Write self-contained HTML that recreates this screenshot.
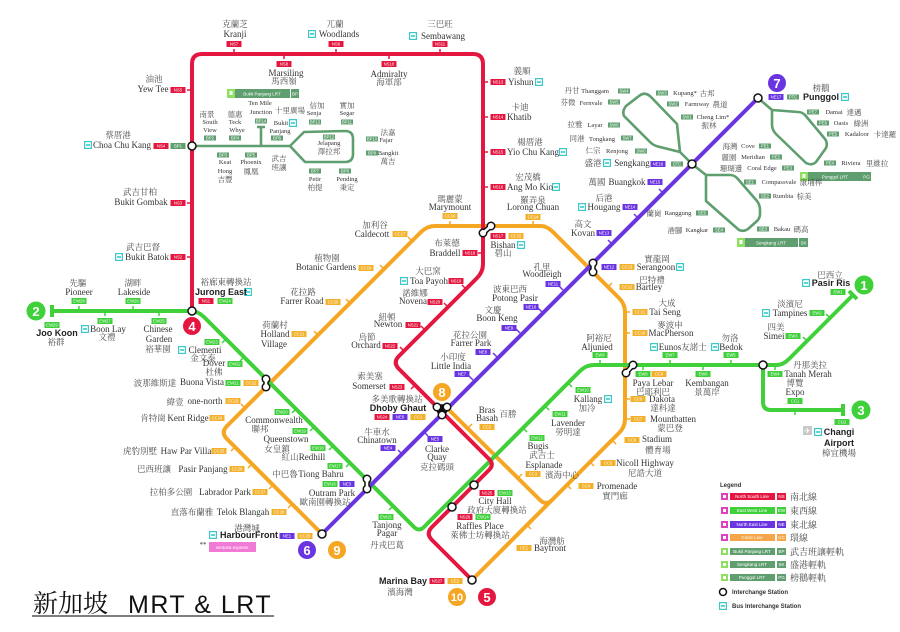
<!DOCTYPE html>
<html><head><meta charset="utf-8"><style>
html,body{margin:0;padding:0;background:#fff}
svg{display:block}
text{font-family:"Liberation Serif","Noto Serif CJK SC",serif;text-anchor:middle;fill:#333;font-size:9px}
.z{font-size:8.5px;fill:#4a4a4a}
.s{font-size:6.5px}
.zs{font-size:7.5px;fill:#4a4a4a}
.b{font-weight:bold;font-family:"Liberation Sans",sans-serif;font-size:9px;fill:#222}
.l{text-anchor:start}
.k text{fill:#fff;font-family:"Liberation Sans",sans-serif;font-size:4.2px}
.ns rect{fill:#e3173f}.ew rect{fill:#3fcf3a}.ne rect{fill:#6a35e0}.cc rect{fill:#f3b12b}.lr rect{fill:#5f9e6e}
.ln{fill:none;stroke-width:4;stroke-linejoin:round}
.lt{fill:none;stroke:#5f9e6e;stroke-width:2.6;stroke-linejoin:round}
.tk{stroke-width:1.5;fill:none}
.nc text{fill:#fff;font-family:"Liberation Sans",sans-serif;font-weight:bold;font-size:13px}
.lg{font-family:"Liberation Sans",sans-serif;font-weight:bold;font-size:6px;text-anchor:start;fill:#333}
.lb{font-family:"Liberation Sans",sans-serif;font-size:4.5px;fill:#fff}
</style></head><body>
<svg width="900" height="632" viewBox="0 0 900 632" xmlns="http://www.w3.org/2000/svg">
<defs>
<symbol id="bus" viewBox="0 0 8 8"><rect x="0.6" y="0.6" width="6.8" height="6.8" fill="#fff" stroke="#3cc8c8" stroke-width="1.2"/><rect x="2" y="3.2" width="4" height="1.6" fill="#3cc8c8"/></symbol>
</defs>
<rect width="900" height="632" fill="#fff"/>

<!-- LRT lines -->
<path class="lt" d="M192,146 L290,146 M290,146 L304,132 L345,131 Q353,131 353,139 L353,154 Q353,162 345,162 L305,162 Z M261,146 L261,127 M257,127 L265,127"/>
<path class="lt" d="M692,164 L680,152 L677,124 L651,97 Q645,91 639,96 L626,106 Q622,111 624,116 L650,142 Q654,146 660,147 L680,152"/>
<path class="lt" d="M692,164 L706,175 L730,175 Q734,175 737,178 L757,201 Q760,205 760,210 L760,214 Q760,218 757,221 L748,229 Q744,232 739,230 L706,201 L706,175"/>
<path class="lt" d="M758,98 L772,110 L798,112 Q802,112 805,115 L825,139 Q828,143 826,148 L816,162 Q812,166 806,163 L776,134 Q772,130 772,124 L772,110"/>

<!-- MRT lines -->
<path class="ln" stroke="#f5a623" d="M322,534 L227,439 Q220.5,432.5 227,426 L421,232 Q427,226 435,226 L541,226 Q547,226 553,232 L619,298 Q625,304 625,312 L625,419 Q625,427 619,433 L472,580"/>
<path class="ln" stroke="#f5a623" d="M447,408 L540,500 Q546,506 552,500"/>
<path class="ln" stroke="#3fd03a" d="M52,311 L190,311 Q198,311 204,317 L414,527 Q419,532 424,527 L580,371 Q586,365 594,365 L777,365 Q783,365 789,359 L853,295 M849,291 L857,299 M52,305 L52,317 M763,365 L763,402 Q763,410 771,410 L843,410 M843,404 L843,416"/>
<path class="ln" stroke="#e3173f" d="M192,310 L192,64 Q192,54 202,54 L473,54 Q483,54 483,64 L483,264 Q483,272 477,278 L399,356 Q392.5,362.5 399,369 L489,459 Q494.5,464.5 489,470 L432,527 Q425.5,533.5 432,540 L472,580"/>
<path class="ln" stroke="#6a35e0" d="M322,534 L758,98"/>

<!-- ticks -->
<g class="tk" stroke="#e3173f">
<path d="M187,90H192M187,203H192M187,257H192M234,49V54M284,54V59M336,49V54M389,54V59M440,49V54M483,82H488M483,117H488M483,152H488M483,187H488M478,253H483M466,289L462,285M448,307L444,303M425,330L421,326M404,351L400,347M415,385L411,389"/>
</g>
<g class="tk" stroke="#3fd03a"><path d="M79,306V311M105,311V316M133,306V311M159,311V316M600,360V365M643,365V370M670,360V365M703,365V370M731,360V365M795,410V415M775,365V370M226,339L222,343M244,357L240,361M296,409L292,413M314,427L310,431M333,446L329,450M350,463L346,467M393,506L389,510M523,428L527,432M545,406L549,410M568,383L572,387M807,341L803,337M830,318L826,314"/></g>
<g class="tk" stroke="#f5a623"><path d="M450,221V226M533,221V226M625,312H630M625,333H630M625,399H630M625,419H630M412,241L408,237M384,269L380,265M350,303L346,299M318,335L314,331M245,408L241,404M235,447L231,451M252,464L248,468M273,485L269,489M292,504L288,508M608,287L612,283M612,440L616,444M590,462L594,466M567,485L571,489M527,525L531,529M468,428L472,424M518,478L522,474"/></g>
<g class="tk" stroke="#6a35e0"><path d="M563,290L559,286M542,312L538,308M520,333L516,329M497,357L493,353M473,380L469,376M612,244L608,240M638,218L634,214M663,193L659,189M402,454L398,450M424,432L428,436"/></g>

<!-- interchange markers -->
<g fill="#fff" stroke="#111" stroke-width="1.5">
<circle cx="192" cy="311" r="4"/><circle cx="192" cy="146" r="4"/><circle cx="474" cy="485" r="4"/><circle cx="452" cy="507" r="4"/><circle cx="472" cy="580" r="4"/><circle cx="322" cy="534" r="4"/><circle cx="763" cy="365" r="4"/><circle cx="692" cy="164" r="4"/><circle cx="758" cy="98" r="4"/>
</g>
<g>
<path d="M483,233L491,226M593,263L593,272M266,379L266,387M367,479L367,489M633,365L626,373M437,407L447,407L442,415Z" stroke="#111" stroke-width="5.5" stroke-linejoin="round" stroke-linecap="round" fill="#111"/>
<g fill="#111"><circle cx="483" cy="233" r="4.5"/><circle cx="491" cy="226" r="4.5"/><circle cx="593" cy="263" r="4.5"/><circle cx="593" cy="272" r="4.5"/><circle cx="266" cy="379" r="4.5"/><circle cx="266" cy="387" r="4.5"/><circle cx="367" cy="479" r="4.5"/><circle cx="367" cy="489" r="4.5"/><circle cx="633" cy="365" r="4.5"/><circle cx="626" cy="373" r="4.5"/><circle cx="437" cy="407" r="4.5"/><circle cx="447" cy="407" r="4.5"/><circle cx="442" cy="415" r="4.5"/></g>
<path d="M483,233L491,226M593,263L593,272M266,379L266,387M367,479L367,489M633,365L626,373" stroke="#fff" stroke-width="2.5"/>
<g fill="#fff"><circle cx="483" cy="233" r="3"/><circle cx="491" cy="226" r="3"/><circle cx="593" cy="263" r="3"/><circle cx="593" cy="272" r="3"/><circle cx="266" cy="379" r="3"/><circle cx="266" cy="387" r="3"/><circle cx="367" cy="479" r="3"/><circle cx="367" cy="489" r="3"/><circle cx="633" cy="365" r="3"/><circle cx="626" cy="373" r="3"/><circle cx="437" cy="407" r="3"/><circle cx="447" cy="407" r="3"/><circle cx="442" cy="415" r="3"/></g>
</g>

<!-- number circles -->
<g class="nc">
<circle cx="864" cy="285" r="9.5" fill="#3fd03a"/><text x="864" y="290">1</text>
<circle cx="36" cy="311" r="9.5" fill="#3fd03a"/><text x="36" y="316">2</text>
<circle cx="861" cy="410" r="9.5" fill="#3fd03a"/><text x="861" y="415">3</text>
<circle cx="192" cy="326" r="9" fill="#e3173f"/><text x="192" y="331">4</text>
<circle cx="487" cy="597" r="9" fill="#e3173f"/><text x="487" y="602">5</text>
<circle cx="307" cy="550" r="9" fill="#6a35e0"/><text x="307" y="555">6</text>
<circle cx="777" cy="83" r="9" fill="#6a35e0"/><text x="777" y="88">7</text>
<circle cx="442" cy="392" r="9" fill="#f5a623"/><text x="442" y="397">8</text>
<circle cx="337" cy="550" r="9" fill="#f5a623"/><text x="337" y="555">9</text>
<circle cx="457" cy="597" r="9" fill="#f5a623"/><text x="457" y="601" style="font-size:11px">10</text>
</g>

<!-- bus icons -->
<g>
<use href="#bus" x="308" y="30" width="8" height="8"/><use href="#bus" x="409" y="32" width="8" height="8"/>
<use href="#bus" x="84" y="141" width="8" height="8"/><use href="#bus" x="115" y="253" width="8" height="8"/>
<use href="#bus" x="244" y="288" width="8" height="8"/><use href="#bus" x="535" y="78" width="8" height="8"/>
<use href="#bus" x="559" y="148" width="8" height="8"/><use href="#bus" x="552" y="183" width="8" height="8"/>
<use href="#bus" x="517" y="241" width="8" height="8"/><use href="#bus" x="400" y="277" width="8" height="8"/>
<use href="#bus" x="289" y="119" width="8" height="8"/><use href="#bus" x="578" y="203" width="8" height="8"/>
<use href="#bus" x="603" y="159" width="8" height="8"/><use href="#bus" x="676" y="263" width="8" height="8"/>
<use href="#bus" x="841" y="93" width="8" height="8"/><use href="#bus" x="802" y="279" width="8" height="8"/>
<use href="#bus" x="762" y="309" width="8" height="8"/><use href="#bus" x="650" y="343" width="8" height="8"/>
<use href="#bus" x="711" y="343" width="8" height="8"/><use href="#bus" x="604" y="395" width="8" height="8"/>
<use href="#bus" x="814" y="428" width="8" height="8"/><use href="#bus" x="81" y="325" width="8" height="8"/>
<use href="#bus" x="178" y="346" width="8" height="8"/><use href="#bus" x="209" y="531" width="8" height="8"/>
</g>
<rect x="803" y="426" width="9" height="9" fill="#c8c8c8"/><text x="807.5" y="433.5" style="font-size:8px;fill:#fff;font-family:'DejaVu Sans',sans-serif">✈</text>

<!-- LRT name bars -->
<rect x="227" y="89" width="8" height="9" fill="#8ee060"/><rect x="229.5" y="91" width="3" height="4" fill="#fff"/>
<rect x="235" y="89" width="55" height="9" fill="#5f9e6e"/><text x="262" y="95.5" class="lb">Bukit Panjang LRT</text>
<rect x="291" y="89" width="8" height="9" fill="#5f9e6e"/><text x="295" y="95.5" class="lb">BP</text>
<rect x="737" y="238" width="8" height="9" fill="#8ee060"/><rect x="739.5" y="240" width="3" height="4" fill="#fff"/>
<rect x="745" y="238" width="53" height="9" fill="#5f9e6e"/><text x="771" y="244.5" class="lb">Sengkang LRT</text>
<rect x="799" y="238" width="9" height="9" fill="#5f9e6e"/><text x="803.5" y="244.5" class="lb">SK</text>
<rect x="800" y="172" width="8" height="9" fill="#8ee060"/><rect x="802.5" y="174" width="3" height="4" fill="#fff"/>
<rect x="808" y="172" width="54" height="9" fill="#5f9e6e"/><text x="835" y="178.5" class="lb">Punggol LRT</text>
<rect x="862" y="172" width="9" height="9" fill="#5f9e6e"/><text x="866.5" y="178.5" class="lb">PG</text>

<!-- code boxes: NS -->
<g class="k ns">
<g transform="translate(234,44)"><rect x="-7.5" y="-3" width="15" height="6"/><text y="1.5">NS7</text></g>
<g transform="translate(336,44)"><rect x="-7.5" y="-3" width="15" height="6"/><text y="1.5">NS9</text></g>
<g transform="translate(440,44)"><rect x="-7.5" y="-3" width="15" height="6"/><text y="1.5">NS11</text></g>
<g transform="translate(284,64)"><rect x="-7.5" y="-3" width="15" height="6"/><text y="1.5">NS8</text></g>
<g transform="translate(389,64)"><rect x="-7.5" y="-3" width="15" height="6"/><text y="1.5">NS10</text></g>
<g transform="translate(178,90)"><rect x="-7.5" y="-3" width="15" height="6"/><text y="1.5">NS5</text></g>
<g transform="translate(161,146)"><rect x="-7.5" y="-3" width="15" height="6"/><text y="1.5">NS4</text></g>
<g transform="translate(178,203)"><rect x="-7.5" y="-3" width="15" height="6"/><text y="1.5">NS3</text></g>
<g transform="translate(178,257)"><rect x="-7.5" y="-3" width="15" height="6"/><text y="1.5">NS2</text></g>
<g transform="translate(206,301)"><rect x="-7.5" y="-3" width="15" height="6"/><text y="1.5">NS1</text></g>
<g transform="translate(498,82)"><rect x="-7.5" y="-3" width="15" height="6"/><text y="1.5">NS13</text></g>
<g transform="translate(498,117)"><rect x="-7.5" y="-3" width="15" height="6"/><text y="1.5">NS14</text></g>
<g transform="translate(498,152)"><rect x="-7.5" y="-3" width="15" height="6"/><text y="1.5">NS15</text></g>
<g transform="translate(498,187)"><rect x="-7.5" y="-3" width="15" height="6"/><text y="1.5">NS16</text></g>
<g transform="translate(498,236)"><rect x="-7.5" y="-3" width="15" height="6"/><text y="1.5">NS17</text></g>
<g transform="translate(470,253)"><rect x="-7.5" y="-3" width="15" height="6"/><text y="1.5">NS18</text></g>
<g transform="translate(456,281)"><rect x="-7.5" y="-3" width="15" height="6"/><text y="1.5">NS19</text></g>
<g transform="translate(435,302)"><rect x="-7.5" y="-3" width="15" height="6"/><text y="1.5">NS20</text></g>
<g transform="translate(413,325)"><rect x="-7.5" y="-3" width="15" height="6"/><text y="1.5">NS21</text></g>
<g transform="translate(390,346)"><rect x="-7.5" y="-3" width="15" height="6"/><text y="1.5">NS22</text></g>
<g transform="translate(397,387)"><rect x="-7.5" y="-3" width="15" height="6"/><text y="1.5">NS23</text></g>
<g transform="translate(382,417)"><rect x="-7.5" y="-3" width="15" height="6"/><text y="1.5">NS24</text></g>
<g transform="translate(487,493)"><rect x="-7.5" y="-3" width="15" height="6"/><text y="1.5">NS25</text></g>
<g transform="translate(465,517)"><rect x="-7.5" y="-3" width="15" height="6"/><text y="1.5">NS26</text></g>
<g transform="translate(437,581)"><rect x="-7.5" y="-3" width="15" height="6"/><text y="1.5">NS27</text></g>
</g>
<!-- EW -->
<g class="k ew">
<g transform="translate(225,301)"><rect x="-7.5" y="-3" width="15" height="6"/><text y="1.5">EW24</text></g>
<g transform="translate(79,301)"><rect x="-7.5" y="-3" width="15" height="6"/><text y="1.5">EW28</text></g>
<g transform="translate(133,301)"><rect x="-7.5" y="-3" width="15" height="6"/><text y="1.5">EW26</text></g>
<g transform="translate(52,325)"><rect x="-7.5" y="-3" width="15" height="6"/><text y="1.5">EW29</text></g>
<g transform="translate(105,321)"><rect x="-7.5" y="-3" width="15" height="6"/><text y="1.5">EW27</text></g>
<g transform="translate(159,321)"><rect x="-7.5" y="-3" width="15" height="6"/><text y="1.5">EW25</text></g>
<g transform="translate(212,342)"><rect x="-7.5" y="-3" width="15" height="6"/><text y="1.5">EW23</text></g>
<g transform="translate(235,364)"><rect x="-7.5" y="-3" width="15" height="6"/><text y="1.5">EW22</text></g>
<g transform="translate(233,383)"><rect x="-7.5" y="-3" width="15" height="6"/><text y="1.5">EW21</text></g>
<g transform="translate(282,412)"><rect x="-7.5" y="-3" width="15" height="6"/><text y="1.5">EW20</text></g>
<g transform="translate(300,431)"><rect x="-7.5" y="-3" width="15" height="6"/><text y="1.5">EW19</text></g>
<g transform="translate(318,448)"><rect x="-7.5" y="-3" width="15" height="6"/><text y="1.5">EW18</text></g>
<g transform="translate(335,466)"><rect x="-7.5" y="-3" width="15" height="6"/><text y="1.5">EW17</text></g>
<g transform="translate(330,484)"><rect x="-7.5" y="-3" width="15" height="6"/><text y="1.5">EW16</text></g>
<g transform="translate(386,517)"><rect x="-7.5" y="-3" width="15" height="6"/><text y="1.5">EW15</text></g>
<g transform="translate(483,517)"><rect x="-7.5" y="-3" width="15" height="6"/><text y="1.5">EW14</text></g>
<g transform="translate(505,493)"><rect x="-7.5" y="-3" width="15" height="6"/><text y="1.5">EW13</text></g>
<g transform="translate(537,438)"><rect x="-7.5" y="-3" width="15" height="6"/><text y="1.5">EW12</text></g>
<g transform="translate(560,414)"><rect x="-7.5" y="-3" width="15" height="6"/><text y="1.5">EW11</text></g>
<g transform="translate(583,390)"><rect x="-7.5" y="-3" width="15" height="6"/><text y="1.5">EW10</text></g>
<g transform="translate(600,355)"><rect x="-7.5" y="-3" width="15" height="6"/><text y="1.5">EW9</text></g>
<g transform="translate(643,374)"><rect x="-7.5" y="-3" width="15" height="6"/><text y="1.5">EW8</text></g>
<g transform="translate(670,355)"><rect x="-7.5" y="-3" width="15" height="6"/><text y="1.5">EW7</text></g>
<g transform="translate(703,374)"><rect x="-7.5" y="-3" width="15" height="6"/><text y="1.5">EW6</text></g>
<g transform="translate(731,355)"><rect x="-7.5" y="-3" width="15" height="6"/><text y="1.5">EW5</text></g>
<g transform="translate(775,374)"><rect x="-7.5" y="-3" width="15" height="6"/><text y="1.5">EW4</text></g>
<g transform="translate(793,336)"><rect x="-7.5" y="-3" width="15" height="6"/><text y="1.5">EW3</text></g>
<g transform="translate(817,313)"><rect x="-7.5" y="-3" width="15" height="6"/><text y="1.5">EW2</text></g>
<g transform="translate(838,292)"><rect x="-7.5" y="-3" width="15" height="6"/><text y="1.5">EW1</text></g>
<g transform="translate(795,401)"><rect x="-7.5" y="-3" width="15" height="6"/><text y="1.5">CG1</text></g>
<g transform="translate(842,422)"><rect x="-7.5" y="-3" width="15" height="6"/><text y="1.5">CG2</text></g>
</g>
<!-- NE -->
<g class="k ne">
<g transform="translate(287,536)"><rect x="-7.5" y="-3" width="15" height="6"/><text y="1.5">NE1</text></g>
<g transform="translate(347,484)"><rect x="-7.5" y="-3" width="15" height="6"/><text y="1.5">NE3</text></g>
<g transform="translate(388,448)"><rect x="-7.5" y="-3" width="15" height="6"/><text y="1.5">NE4</text></g>
<g transform="translate(435,439)"><rect x="-7.5" y="-3" width="15" height="6"/><text y="1.5">NE5</text></g>
<g transform="translate(400,417)"><rect x="-7.5" y="-3" width="15" height="6"/><text y="1.5">NE6</text></g>
<g transform="translate(462,374)"><rect x="-7.5" y="-3" width="15" height="6"/><text y="1.5">NE7</text></g>
<g transform="translate(483,352)"><rect x="-7.5" y="-3" width="15" height="6"/><text y="1.5">NE8</text></g>
<g transform="translate(509,328)"><rect x="-7.5" y="-3" width="15" height="6"/><text y="1.5">NE9</text></g>
<g transform="translate(531,307)"><rect x="-7.5" y="-3" width="15" height="6"/><text y="1.5">NE10</text></g>
<g transform="translate(553,284)"><rect x="-7.5" y="-3" width="15" height="6"/><text y="1.5">NE11</text></g>
<g transform="translate(609,267)"><rect x="-7.5" y="-3" width="15" height="6"/><text y="1.5">NE12</text></g>
<g transform="translate(604,233)"><rect x="-7.5" y="-3" width="15" height="6"/><text y="1.5">NE13</text></g>
<g transform="translate(630,207)"><rect x="-7.5" y="-3" width="15" height="6"/><text y="1.5">NE14</text></g>
<g transform="translate(655,182)"><rect x="-7.5" y="-3" width="15" height="6"/><text y="1.5">NE15</text></g>
<g transform="translate(658,164)"><rect x="-7.5" y="-3" width="15" height="6"/><text y="1.5">NE16</text></g>
<g transform="translate(776,97)"><rect x="-7.5" y="-3" width="15" height="6"/><text y="1.5">NE17</text></g>
</g>
<!-- CC -->
<g class="k cc">
<g transform="translate(418,417)"><rect x="-7.5" y="-3" width="15" height="6"/><text y="1.5">CC1</text></g>
<g transform="translate(487,427)"><rect x="-7.5" y="-3" width="15" height="6"/><text y="1.5">CC2</text></g>
<g transform="translate(533,474)"><rect x="-7.5" y="-3" width="15" height="6"/><text y="1.5">CC3</text></g>
<g transform="translate(586,486)"><rect x="-7.5" y="-3" width="15" height="6"/><text y="1.5">CC4</text></g>
<g transform="translate(608,463)"><rect x="-7.5" y="-3" width="15" height="6"/><text y="1.5">CC5</text></g>
<g transform="translate(632,440)"><rect x="-7.5" y="-3" width="15" height="6"/><text y="1.5">CC6</text></g>
<g transform="translate(638,419)"><rect x="-7.5" y="-3" width="15" height="6"/><text y="1.5">CC7</text></g>
<g transform="translate(638,399)"><rect x="-7.5" y="-3" width="15" height="6"/><text y="1.5">CC8</text></g>
<g transform="translate(659,374)"><rect x="-7.5" y="-3" width="15" height="6"/><text y="1.5">CC9</text></g>
<g transform="translate(640,333)"><rect x="-7.5" y="-3" width="15" height="6"/><text y="1.5">CC10</text></g>
<g transform="translate(640,312)"><rect x="-7.5" y="-3" width="15" height="6"/><text y="1.5">CC11</text></g>
<g transform="translate(627,287)"><rect x="-7.5" y="-3" width="15" height="6"/><text y="1.5">CC12</text></g>
<g transform="translate(627,267)"><rect x="-7.5" y="-3" width="15" height="6"/><text y="1.5">CC13</text></g>
<g transform="translate(533,217)"><rect x="-7.5" y="-3" width="15" height="6"/><text y="1.5">CC14</text></g>
<g transform="translate(516,236)"><rect x="-7.5" y="-3" width="15" height="6"/><text y="1.5">CC15</text></g>
<g transform="translate(450,216)"><rect x="-7.5" y="-3" width="15" height="6"/><text y="1.5">CC16</text></g>
<g transform="translate(400,234)"><rect x="-7.5" y="-3" width="15" height="6"/><text y="1.5">CC17</text></g>
<g transform="translate(366,268)"><rect x="-7.5" y="-3" width="15" height="6"/><text y="1.5">CC19</text></g>
<g transform="translate(333,302)"><rect x="-7.5" y="-3" width="15" height="6"/><text y="1.5">CC20</text></g>
<g transform="translate(299,334)"><rect x="-7.5" y="-3" width="15" height="6"/><text y="1.5">CC21</text></g>
<g transform="translate(251,383)"><rect x="-7.5" y="-3" width="15" height="6"/><text y="1.5">CC22</text></g>
<g transform="translate(233,401)"><rect x="-7.5" y="-3" width="15" height="6"/><text y="1.5">CC23</text></g>
<g transform="translate(217,418)"><rect x="-7.5" y="-3" width="15" height="6"/><text y="1.5">CC24</text></g>
<g transform="translate(219,451)"><rect x="-7.5" y="-3" width="15" height="6"/><text y="1.5">CC25</text></g>
<g transform="translate(237,469)"><rect x="-7.5" y="-3" width="15" height="6"/><text y="1.5">CC26</text></g>
<g transform="translate(260,492)"><rect x="-7.5" y="-3" width="15" height="6"/><text y="1.5">CC27</text></g>
<g transform="translate(279,512)"><rect x="-7.5" y="-3" width="15" height="6"/><text y="1.5">CC28</text></g>
<g transform="translate(305,536)"><rect x="-7.5" y="-3" width="15" height="6"/><text y="1.5">CC29</text></g>
<g transform="translate(524,548)"><rect x="-7.5" y="-3" width="15" height="6"/><text y="1.5">CE1</text></g>
<g transform="translate(455,581)"><rect x="-7.5" y="-3" width="15" height="6"/><text y="1.5">CE2</text></g>
</g>
<!-- LRT codes -->
<g class="k lr">
<g transform="translate(178,146)"><rect x="-7.5" y="-3" width="15" height="6"/><text y="1.5">BP1</text></g>
<g transform="translate(210,138)"><rect x="-6" y="-2.5" width="12" height="5"/><text y="1.5">BP2</text></g>
<g transform="translate(235,138)"><rect x="-6" y="-2.5" width="12" height="5"/><text y="1.5">BP4</text></g>
<g transform="translate(261,121)"><rect x="-6" y="-2.5" width="12" height="5"/><text y="1.5">BP14</text></g>
<g transform="translate(277,138)"><rect x="-6" y="-2.5" width="12" height="5"/><text y="1.5">BP6</text></g>
<g transform="translate(315,122)"><rect x="-6" y="-2.5" width="12" height="5"/><text y="1.5">BP13</text></g>
<g transform="translate(347,122)"><rect x="-6" y="-2.5" width="12" height="5"/><text y="1.5">BP11</text></g>
<g transform="translate(372,139)"><rect x="-6" y="-2.5" width="12" height="5"/><text y="1.5">BP10</text></g>
<g transform="translate(372,153)"><rect x="-6" y="-2.5" width="12" height="5"/><text y="1.5">BP9</text></g>
<g transform="translate(329,137)"><rect x="-6" y="-2.5" width="12" height="5"/><text y="1.5">BP12</text></g>
<g transform="translate(223,155)"><rect x="-6" y="-2.5" width="12" height="5"/><text y="1.5">BP3</text></g>
<g transform="translate(251,155)"><rect x="-6" y="-2.5" width="12" height="5"/><text y="1.5">BP5</text></g>
<g transform="translate(315,171)"><rect x="-6" y="-2.5" width="12" height="5"/><text y="1.5">BP7</text></g>
<g transform="translate(345,171)"><rect x="-6" y="-2.5" width="12" height="5"/><text y="1.5">BP8</text></g>
<g transform="translate(624,91)"><rect x="-6" y="-2.5" width="12" height="5"/><text y="1.5">SW4</text></g>
<g transform="translate(614,102)"><rect x="-6" y="-2.5" width="12" height="5"/><text y="1.5">SW5</text></g>
<g transform="translate(614,125)"><rect x="-6" y="-2.5" width="12" height="5"/><text y="1.5">SW6</text></g>
<g transform="translate(627,138)"><rect x="-6" y="-2.5" width="12" height="5"/><text y="1.5">SW7</text></g>
<g transform="translate(641,151)"><rect x="-6" y="-2.5" width="12" height="5"/><text y="1.5">SW8</text></g>
<g transform="translate(662,93)"><rect x="-6" y="-2.5" width="12" height="5"/><text y="1.5">SW3</text></g>
<g transform="translate(673,104)"><rect x="-6" y="-2.5" width="12" height="5"/><text y="1.5">SW2</text></g>
<g transform="translate(687,117)"><rect x="-6" y="-2.5" width="12" height="5"/><text y="1.5">SW1</text></g>
<g transform="translate(677,164)"><rect x="-6" y="-2.5" width="12" height="5"/><text y="1.5">STC</text></g>
<g transform="translate(702,213)"><rect x="-6" y="-2.5" width="12" height="5"/><text y="1.5">SE5</text></g>
<g transform="translate(719,230)"><rect x="-6" y="-2.5" width="12" height="5"/><text y="1.5">SE4</text></g>
<g transform="translate(763,229)"><rect x="-6" y="-2.5" width="12" height="5"/><text y="1.5">SE3</text></g>
<g transform="translate(765,196)"><rect x="-6" y="-2.5" width="12" height="5"/><text y="1.5">SE2</text></g>
<g transform="translate(750,182)"><rect x="-6" y="-2.5" width="12" height="5"/><text y="1.5">SE1</text></g>
<g transform="translate(765,146)"><rect x="-6" y="-2.5" width="12" height="5"/><text y="1.5">PE1</text></g>
<g transform="translate(776,157)"><rect x="-6" y="-2.5" width="12" height="5"/><text y="1.5">PE2</text></g>
<g transform="translate(788,168)"><rect x="-6" y="-2.5" width="12" height="5"/><text y="1.5">PE3</text></g>
<g transform="translate(830,163)"><rect x="-6" y="-2.5" width="12" height="5"/><text y="1.5">PE4</text></g>
<g transform="translate(833,134)"><rect x="-6" y="-2.5" width="12" height="5"/><text y="1.5">PE5</text></g>
<g transform="translate(823,123)"><rect x="-6" y="-2.5" width="12" height="5"/><text y="1.5">PE6</text></g>
<g transform="translate(813,112)"><rect x="-6" y="-2.5" width="12" height="5"/><text y="1.5">PE7</text></g>
<g transform="translate(793,97)"><rect x="-6" y="-2.5" width="12" height="5"/><text y="1.5">PTC</text></g>
</g>

<!-- Labels: NS -->
<text class="z" x="235" y="27">克蘭芝</text><text x="235" y="37">Kranji</text>
<text class="z" x="335" y="27">兀蘭</text><text x="339" y="37">Woodlands</text>
<text class="z" x="440" y="27">三巴旺</text><text x="443" y="39">Sembawang</text>
<text x="286" y="76">Marsiling</text><text class="z" x="284" y="84">馬西嶺</text>
<text x="389" y="77">Admiralty</text><text class="z" x="389" y="85">海軍部</text>
<text class="z" x="154" y="82">油池</text><text x="153" y="92">Yew Tee</text>
<text class="z" x="118" y="138">蔡厝港</text><text x="122" y="148">Choa Chu Kang</text>
<text class="z" x="140" y="195">武吉甘柏</text><text x="141" y="205">Bukit Gombak</text>
<text class="z" x="143" y="250">武吉巴督</text><text x="147" y="260">Bukit Batok</text>
<text class="z" x="78" y="286">先驅</text><text x="79" y="295">Pioneer</text>
<text class="z" x="133" y="286">湖畔</text><text x="134" y="295">Lakeside</text>
<text class="z" x="226" y="285">裕廊東轉換站</text><text class="b" x="221" y="295">Jurong East</text>
<text class="z" x="522" y="74">義順</text><text class="l" x="508" y="85">Yishun</text>
<text class="z" x="520" y="110">卡迪</text><text class="l" x="507" y="120">Khatib</text>
<text class="z" x="530" y="145">楊厝港</text><text class="l" x="507" y="155">Yio Chu Kang</text>
<text class="z" x="528" y="180">宏茂橋</text><text class="l" x="507" y="190">Ang Mo Kio</text>
<text class="z" x="450" y="202">瑪麗蒙</text><text x="450" y="210">Marymount</text>
<text class="z" x="533" y="203">羅弄泉</text><text x="533" y="210">Lorong Chuan</text>
<text x="503" y="248">Bishan</text><text class="z" x="503" y="256">碧山</text>
<text class="z" x="447" y="246">布萊德</text><text x="445" y="256">Braddell</text>
<text class="z" x="428" y="274">大巴窯</text><text x="429" y="284">Toa Payoh</text>
<text class="z" x="415" y="296">諾維娜</text><text x="413" y="304">Novena</text>
<text class="z" x="387" y="320">紐頓</text><text x="388" y="327">Newton</text>
<text class="z" x="367" y="340">烏節</text><text x="366" y="348">Orchard</text>
<text class="z" x="370" y="379">索美塞</text><text x="369" y="389">Somerset</text>
<text class="z" x="397" y="402">多美歌轉換站</text><text class="b" x="398" y="411">Dhoby Ghaut</text>
<text x="495" y="504">City Hall</text><text class="z" x="497" y="513">政府大廈轉換站</text>
<text x="480" y="529">Raffles Place</text><text class="z" x="480" y="538">萊佛士坊轉換站</text>
<text class="b" x="403" y="584">Marina Bay</text><text class="z" x="400" y="595">濱海灣</text>

<!-- CC -->
<text class="z" x="375" y="228">加利谷</text><text x="372" y="237">Caldecott</text>
<text class="z" x="327" y="261">植物園</text><text x="326" y="270">Botanic Gardens</text>
<text class="z" x="303" y="295">花拉路</text><text x="302" y="304">Farrer Road</text>
<text class="z" x="275" y="328">荷蘭村</text><text x="275" y="337">Holland</text><text x="274" y="347">Village</text>
<text class="z" x="155" y="386">波那維斯達</text><text x="202" y="385">Buona Vista</text>
<text class="z" x="175" y="405">緯壹</text><text x="205" y="404">one-north</text>
<text class="z" x="153" y="421">肯特崗</text><text x="188" y="421">Kent Ridge</text>
<text class="z" x="140" y="454">虎豹別墅</text><text x="186" y="454">Haw Par Villa</text>
<text class="z" x="154" y="472">巴西班讓</text><text x="203" y="472">Pasir Panjang</text>
<text class="z" x="171" y="495">拉柏多公園</text><text x="225" y="495">Labrador Park</text>
<text class="z" x="192" y="515">直落布蘭雅</text><text x="243" y="515">Telok Blangah</text>
<text class="z" x="247" y="531">港灣城</text><text class="b" x="249" y="538">HarbourFront</text>
<text x="203" y="547" style="font-size:7px">**</text>
<rect x="209" y="542" width="47" height="10" fill="#f07ad6"/><text x="232" y="549" class="lb">sentosa express</text>
<text x="487" y="413">Bras</text><text x="487" y="421">Basah</text><text class="z" x="508" y="417">百勝</text>
<text x="544" y="468">Esplanade</text><text class="z" x="562" y="478">濱海中心</text>
<text x="617" y="489">Promenade</text><text class="z" x="615" y="499">實門廊</text>
<text x="645" y="466">Nicoll Highway</text><text class="z" x="645" y="476">尼誥大道</text>
<text x="657" y="442">Stadium</text><text class="z" x="658" y="453">體育場</text>
<text x="673" y="422">Mountbatten</text><text class="z" x="670" y="431">蒙巴登</text>
<text x="662" y="402">Dakota</text><text class="z" x="663" y="411">達科達</text>
<text class="z" x="670" y="328">麥波申</text><text x="671" y="336">MacPherson</text>
<text class="z" x="667" y="306">大成</text><text x="665" y="315">Tai Seng</text>
<text class="z" x="652" y="283">巴特禮</text><text x="649" y="290">Bartley</text>
<text class="z" x="657" y="262">實龍岡</text><text x="656" y="270">Serangoon</text>
<text class="z" x="552" y="544">海灣舫</text><text x="550" y="551">Bayfront</text>

<!-- NE -->
<text class="z" x="542" y="270">孔里</text><text x="542" y="277">Woodleigh</text>
<text class="z" x="510" y="292">波東巴西</text><text x="515" y="301">Potong Pasir</text>
<text class="z" x="493" y="313">文慶</text><text x="497" y="321">Boon Keng</text>
<text class="z" x="470" y="338">花拉公園</text><text x="471" y="346">Farrer Park</text>
<text class="z" x="453" y="360">小印度</text><text x="451" y="369">Little India</text>
<text class="z" x="377" y="435">牛車水</text><text x="377" y="443">Chinatown</text>
<text x="437" y="452">Clarke</text><text x="437" y="460">Quay</text><text class="z" x="437" y="470">克拉碼頭</text>
<text x="332" y="496">Outram Park</text><text class="z" x="325" y="505">歐南園轉換站</text>
<text class="z" x="583" y="227">高文</text><text x="583" y="236">Kovan</text>
<text class="z" x="604" y="201">后港</text><text x="604" y="210">Hougang</text>
<text class="z" x="597" y="185">萬國</text><text x="627" y="185">Buangkok</text>
<text class="z" x="593" y="166">盛港</text><text x="632" y="166">Sengkang</text>
<text class="z" x="821" y="91">榜鵝</text><text class="b" x="821" y="100">Punggol</text>

<!-- EW -->
<text class="b" x="57" y="336">Joo Koon</text><text class="z" x="56" y="345">裕群</text>
<text x="108" y="332">Boon Lay</text><text class="z" x="107" y="340">文禮</text>
<text x="158" y="332">Chinese</text><text x="159" y="342">Garden</text><text class="z" x="158" y="352">裕華園</text>
<text x="205" y="353">Clementi</text><text class="z" x="203" y="361">金文泰</text>
<text x="214" y="366">Dover</text><text class="z" x="214" y="375">杜佛</text>
<text x="274" y="423">Commonwealth</text><text class="z" x="260" y="432">聯邦</text>
<text x="286" y="442">Queenstown</text><text class="z" x="277" y="452">女皇鎮</text>
<text class="z" x="290" y="460">紅山</text><text x="312" y="460">Redhill</text>
<text class="z" x="285" y="477">中巴魯</text><text x="321" y="477">Tiong Bahru</text>
<text x="387" y="528">Tanjong</text><text x="387" y="536">Pagar</text><text class="z" x="387" y="548">丹戎巴葛</text>
<text x="538" y="449">Bugis</text><text class="z" x="542" y="458">武吉士</text>
<text x="568" y="426">Lavender</text><text class="z" x="568" y="435">勞明達</text>
<text x="588" y="402">Kallang</text><text class="z" x="587" y="411">加冷</text>
<text class="z" x="599" y="341">阿裕尼</text><text x="597" y="350">Aljunied</text>
<text x="670" y="350">Eunos</text><text class="z" x="694" y="350">友諾士</text>
<text class="z" x="730" y="341">勿洛</text><text x="731" y="350">Bedok</text>
<text x="653" y="386">Paya Lebar</text><text class="z" x="653" y="395">巴耶利巴</text>
<text x="707" y="386">Kembangan</text><text class="z" x="707" y="395">景萬岸</text>
<text class="z" x="810" y="368">丹那美拉</text><text x="808" y="377">Tanah Merah</text>
<text class="z" x="795" y="386">博覽</text><text x="795" y="395">Expo</text>
<text class="b" x="839" y="435">Changi</text><text class="b" x="839" y="446">Airport</text><text class="z" x="839" y="456">樟宜機場</text>
<text class="z" x="776" y="330">四美</text><text x="774" y="339">Simei</text>
<text class="z" x="790" y="307">淡濱尼</text><text x="790" y="316">Tampines</text>
<text class="z" x="830" y="278">巴西立</text><text class="b" x="831" y="286">Pasir Ris</text>

<!-- BP LRT labels -->
<text class="zs" x="207" y="117">南景</text><text class="s" x="210" y="124">South</text><text class="s" x="210" y="132">View</text>
<text class="zs" x="235" y="117">德惠</text><text class="s" x="235" y="124">Teck</text><text class="s" x="237" y="132">Whye</text>
<text class="s" x="260" y="105">Ten Mile</text><text class="s" x="261" y="114">Junction</text>
<text class="zs" x="290" y="113">十里廣場</text>
<text class="s" x="281" y="125">Bukit</text><text class="s" x="280" y="133">Panjang</text>
<text class="zs" x="317" y="108">信加</text><text class="s" x="314" y="115">Senja</text>
<text class="zs" x="347" y="108">實加</text><text class="s" x="347" y="115">Segar</text>
<text class="zs" x="388" y="135">法嘉</text><text class="s" x="386" y="142">Fajar</text>
<text class="s" x="388" y="155">Bangkit</text><text class="zs" x="388" y="164">萬吉</text>
<text class="s" x="329" y="145">Jelapang</text><text class="zs" x="329" y="154">澤拉邦</text>
<text class="s" x="225" y="164">Keat</text><text class="s" x="225" y="173">Hong</text><text class="zs" x="225" y="182">吉豐</text>
<text class="s" x="251" y="164">Phoenix</text><text class="zs" x="251" y="174">鳳凰</text>
<text class="zs" x="279" y="161">武吉</text><text class="zs" x="279" y="170">班讓</text>
<text class="s" x="315" y="181">Petir</text><text class="zs" x="315" y="190">柏提</text>
<text class="s" x="347" y="181">Pending</text><text class="zs" x="347" y="190">秉定</text>

<!-- SK LRT labels -->
<text class="zs" x="572" y="93">丹甘</text><text class="s" x="595" y="93">Thanggam</text>
<text class="zs" x="568" y="105">芬微</text><text class="s" x="591" y="105">Fernvale</text>
<text class="zs" x="575" y="127">拉雅</text><text class="s" x="595" y="127">Layar</text>
<text class="zs" x="577" y="141">同港</text><text class="s" x="602" y="141">Tongkang</text>
<text class="zs" x="593" y="153">仁宗</text><text class="s" x="617" y="153">Renjong</text>
<text class="s" x="685" y="95">Kupang*</text><text class="zs" x="707" y="96">古邦</text>
<text class="s" x="697" y="106">Farmway</text><text class="zs" x="720" y="107">農道</text>
<text class="s" x="713" y="119">Cheng Lim*</text><text class="zs" x="709" y="128">振林</text>
<text class="zs" x="654" y="216">蘭崗</text><text class="s" x="678" y="215">Ranggung</text>
<text class="zs" x="675" y="233">港腳</text><text class="s" x="697" y="232">Kangkar</text>
<text class="s" x="782" y="231">Bakau</text><text class="zs" x="801" y="232">碼高</text>
<text class="s" x="779" y="184">Compassvale</text><text class="zs" x="811" y="185">康埔桦</text>
<text class="s" x="783" y="198">Rumbia</text><text class="zs" x="804" y="199">棕美</text>
<text class="zs" x="730" y="149">海灣</text><text class="s" x="748" y="148">Cove</text>
<text class="zs" x="729" y="160">麗園</text><text class="s" x="753" y="159">Meridian</text>
<text class="zs" x="731" y="171">珊瑚邊</text><text class="s" x="762" y="170">Coral Edge</text>
<text class="s" x="834" y="114">Damai</text><text class="zs" x="854" y="115">達邁</text>
<text class="s" x="841" y="125">Oasis</text><text class="zs" x="861" y="126">綠洲</text>
<text class="s" x="857" y="136">Kadaloor</text><text class="zs" x="885" y="137">卡達羅</text>
<text class="s" x="851" y="165">Riviera</text><text class="zs" x="877" y="166">里維拉</text>

<!-- Legend -->
<text class="lg" x="720" y="487">Legend</text>
<g>
<rect x="721" y="493" width="7" height="7" fill="#e040c0"/><rect x="730" y="493" width="45" height="7" fill="#e3173f"/><rect x="777" y="493" width="9" height="7" fill="#e3173f"/>
<text class="lb" x="752" y="498">North South Line</text><text class="lb" x="781.5" y="498">NS</text><text class="z" x="790" y="500" style="text-anchor:start;font-size:9px">南北線</text>
<rect x="721" y="507" width="7" height="7" fill="#e040c0"/><rect x="730" y="507" width="45" height="7" fill="#3fd03a"/><rect x="777" y="507" width="9" height="7" fill="#3fd03a"/>
<text class="lb" x="752" y="512">East West Line</text><text class="lb" x="781.5" y="512">EW</text><text class="z" x="790" y="514" style="text-anchor:start;font-size:9px">東西線</text>
<rect x="721" y="521" width="7" height="7" fill="#e040c0"/><rect x="730" y="521" width="45" height="7" fill="#6a35e0"/><rect x="777" y="521" width="9" height="7" fill="#6a35e0"/>
<text class="lb" x="752" y="526">North East Line</text><text class="lb" x="781.5" y="526">NE</text><text class="z" x="790" y="528" style="text-anchor:start;font-size:9px">東北線</text>
<rect x="721" y="534" width="7" height="7" fill="#e040c0"/><rect x="730" y="534" width="45" height="7" fill="#f5a64a"/><rect x="777" y="534" width="9" height="7" fill="#f5a64a"/>
<text class="lb" x="752" y="539">Circle Line</text><text class="lb" x="781.5" y="539">CC</text><text class="z" x="790" y="541" style="text-anchor:start;font-size:9px">環線</text>
<rect x="721" y="548" width="7" height="7" fill="#8ee060"/><rect x="730" y="548" width="45" height="7" fill="#5f9e6e"/><rect x="777" y="548" width="9" height="7" fill="#5f9e6e"/>
<text class="lb" x="752" y="553">Bukit Panjang LRT</text><text class="lb" x="781.5" y="553">BP</text><text class="z" x="790" y="555" style="text-anchor:start;font-size:9px">武吉班讓輕軌</text>
<rect x="721" y="561" width="7" height="7" fill="#8ee060"/><rect x="730" y="561" width="45" height="7" fill="#5f9e6e"/><rect x="777" y="561" width="9" height="7" fill="#5f9e6e"/>
<text class="lb" x="752" y="566">Sengkang LRT</text><text class="lb" x="781.5" y="566">SK</text><text class="z" x="790" y="568" style="text-anchor:start;font-size:9px">盛港輕軌</text>
<rect x="721" y="574" width="7" height="7" fill="#8ee060"/><rect x="730" y="574" width="45" height="7" fill="#5f9e6e"/><rect x="777" y="574" width="9" height="7" fill="#5f9e6e"/>
<text class="lb" x="752" y="579">Punggol LRT</text><text class="lb" x="781.5" y="579">PG</text><text class="z" x="790" y="581" style="text-anchor:start;font-size:9px">榜鵝輕軌</text>
<g fill="#fff"><rect x="723" y="495" width="3" height="3"/><rect x="723" y="509" width="3" height="3"/><rect x="723" y="523" width="3" height="3"/><rect x="723" y="536" width="3" height="3"/><rect x="723" y="550" width="3" height="3"/><rect x="723" y="563" width="3" height="3"/><rect x="723" y="576" width="3" height="3"/></g>
<circle cx="723" cy="592" r="3.5" fill="#fff" stroke="#111" stroke-width="1.5"/><text class="lg" x="732" y="594">Interchange Station</text>
<use href="#bus" x="719" y="602" width="8" height="8"/><text class="lg" x="732" y="608">Bus Interchange Station</text>
</g>

<!-- Title -->
<text x="33" y="612" style="text-anchor:start;font-size:25px;fill:#111;font-family:'Liberation Serif','Noto Serif CJK SC',serif">新加坡</text>
<text x="128" y="613" style="text-anchor:start;font-size:25px;fill:#111;font-family:'Liberation Sans',sans-serif;letter-spacing:1.5px">MRT &amp; LRT</text>
<line x1="32" y1="616" x2="274" y2="616" stroke="#333" stroke-width="1.3"/>
</svg>
</body></html>
